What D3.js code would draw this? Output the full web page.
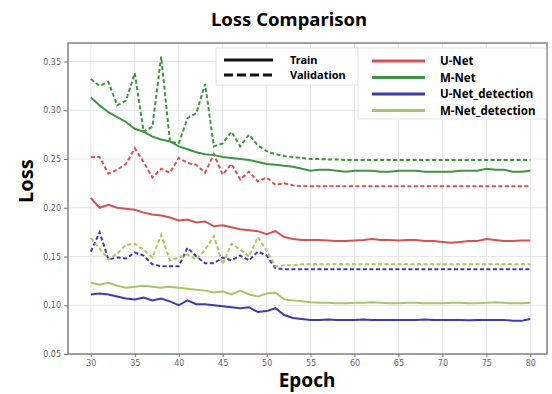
<!DOCTYPE html>
<html>
<head>
<meta charset="utf-8">
<script src="https://cdn.jsdelivr.net/npm/d3@7"></script>
<style>
  body { margin: 0; background: #fff; }
  svg { display: block; font-family: "Noto Sans", "Open Sans", sans-serif; }
</style>
</head>
<body>
<div id="chart"></div>
<script>
// epochs 30..80
const epochs = d3.range(30, 81);

const unetTrain = [0.210, 0.200, 0.203, 0.200, 0.199, 0.198, 0.195, 0.193, 0.192, 0.190,
  0.187, 0.188, 0.185, 0.186, 0.181, 0.182, 0.180, 0.178, 0.177, 0.176,
  0.173, 0.176, 0.170, 0.168, 0.167, 0.167, 0.167, 0.1665, 0.166, 0.166,
  0.1665, 0.167, 0.168, 0.167, 0.167, 0.1665, 0.167, 0.167, 0.166, 0.166,
  0.165, 0.164, 0.165, 0.166, 0.166, 0.168, 0.167, 0.166, 0.166, 0.1665, 0.1665];
const unetVal = [0.252, 0.252, 0.235, 0.239, 0.245, 0.261, 0.247, 0.231, 0.240, 0.236,
  0.251, 0.246, 0.244, 0.236, 0.255, 0.234, 0.245, 0.229, 0.237, 0.227,
  0.231, 0.2235, 0.225, 0.223, 0.222, 0.222, 0.222, 0.222, 0.222, 0.222,
  0.222, 0.222, 0.222, 0.222, 0.222, 0.222, 0.222, 0.222, 0.222, 0.222,
  0.222, 0.222, 0.222, 0.222, 0.222, 0.222, 0.222, 0.222, 0.222, 0.222, 0.222];

const mnetTrain = [0.313, 0.305, 0.298, 0.293, 0.288, 0.281, 0.278, 0.273, 0.270, 0.268,
  0.263, 0.260, 0.257, 0.255, 0.254, 0.252, 0.251, 0.250, 0.249, 0.247,
  0.245, 0.244, 0.243, 0.242, 0.240, 0.238, 0.239, 0.239, 0.238, 0.237,
  0.238, 0.238, 0.238, 0.237, 0.237, 0.238, 0.238, 0.238, 0.237, 0.237,
  0.237, 0.237, 0.238, 0.238, 0.238, 0.240, 0.239, 0.239, 0.237, 0.237, 0.238];
const mnetVal = [0.332, 0.325, 0.329, 0.305, 0.310, 0.338, 0.278, 0.283, 0.355, 0.268,
  0.266, 0.292, 0.297, 0.327, 0.263, 0.266, 0.278, 0.263, 0.275, 0.264,
  0.258, 0.255, 0.253, 0.252, 0.251, 0.250, 0.250, 0.2495, 0.2495, 0.249,
  0.249, 0.249, 0.249, 0.249, 0.249, 0.249, 0.249, 0.249, 0.249, 0.249,
  0.249, 0.249, 0.249, 0.249, 0.249, 0.249, 0.249, 0.249, 0.249, 0.249, 0.249];

const unetDetTrain = [0.111, 0.112, 0.111, 0.109, 0.107, 0.106, 0.108, 0.105, 0.107, 0.104,
  0.100, 0.105, 0.101, 0.101, 0.100, 0.099, 0.098, 0.097, 0.098, 0.093,
  0.094, 0.097, 0.090, 0.087, 0.086, 0.085, 0.085, 0.0855, 0.085, 0.085,
  0.085, 0.0855, 0.085, 0.085, 0.085, 0.085, 0.085, 0.085, 0.0855, 0.085,
  0.085, 0.085, 0.085, 0.0845, 0.085, 0.085, 0.085, 0.085, 0.084, 0.084, 0.086];
const unetDetVal = [0.155, 0.175, 0.147, 0.149, 0.148, 0.154, 0.151, 0.142, 0.140, 0.140,
  0.140, 0.159, 0.150, 0.143, 0.143, 0.149, 0.146, 0.151, 0.146, 0.155,
  0.151, 0.138, 0.137, 0.137, 0.137, 0.137, 0.137, 0.137, 0.137, 0.137,
  0.137, 0.137, 0.137, 0.137, 0.137, 0.137, 0.137, 0.137, 0.137, 0.137,
  0.137, 0.137, 0.137, 0.137, 0.137, 0.137, 0.137, 0.137, 0.137, 0.137, 0.137];

const mnetDetTrain = [0.123, 0.121, 0.123, 0.120, 0.118, 0.119, 0.120, 0.119, 0.118, 0.119,
  0.118, 0.117, 0.116, 0.115, 0.113, 0.114, 0.111, 0.115, 0.111, 0.109,
  0.112, 0.113, 0.106, 0.105, 0.104, 0.103, 0.1025, 0.1025, 0.102, 0.102,
  0.1025, 0.1025, 0.103, 0.1025, 0.102, 0.102, 0.1025, 0.1025, 0.102, 0.102,
  0.102, 0.1025, 0.1025, 0.102, 0.102, 0.1025, 0.103, 0.1025, 0.102, 0.102, 0.1025];
const mnetDetVal = [0.169, 0.158, 0.147, 0.153, 0.162, 0.163, 0.157, 0.149, 0.172, 0.146,
  0.149, 0.152, 0.147, 0.157, 0.171, 0.142, 0.163, 0.157, 0.150, 0.170,
  0.156, 0.140, 0.141, 0.141, 0.142, 0.142, 0.142, 0.142, 0.142, 0.142,
  0.142, 0.142, 0.142, 0.142, 0.142, 0.142, 0.142, 0.142, 0.142, 0.142,
  0.142, 0.142, 0.142, 0.142, 0.142, 0.142, 0.142, 0.142, 0.142, 0.142, 0.142];

const modelNames = ["U-Net", "M-Net", "U-Net_detection", "M-Net_detection"];
const modelColors = ["#d65252", "#3f943f", "#3c3cae", "#a9c763"];
const xTicks = [30, 35, 40, 45, 50, 55, 60, 65, 70, 75, 80];
const yTicks = [0.05, 0.10, 0.15, 0.20, 0.25, 0.30, 0.35];

const series = [
  {train: unetTrain, val: unetVal},
  {train: mnetTrain, val: mnetVal},
  {train: unetDetTrain, val: unetDetVal},
  {train: mnetDetTrain, val: mnetDetVal}
];

const W = 552, H = 394;
const plot = {left: 68, right: 547, top: 43, bottom: 354};

const svg = d3.select("#chart").append("svg")
  .attr("width", W)
  .attr("height", H);

const x = d3.scaleLinear().domain([27.4, 81.9]).range([plot.left, plot.right]);
const y = d3.scaleLinear().domain([0.05, 0.369]).range([plot.bottom, plot.top]);

// grid
svg.append("g")
  .selectAll("line.vgrid")
  .data(xTicks)
  .enter().append("line")
  .attr("x1", d => x(d)).attr("x2", d => x(d))
  .attr("y1", plot.top).attr("y2", plot.bottom)
  .attr("stroke", "#e6e6e6").attr("stroke-width", 1);
svg.append("g")
  .selectAll("line.hgrid")
  .data(yTicks)
  .enter().append("line")
  .attr("x1", plot.left).attr("x2", plot.right)
  .attr("y1", d => y(d)).attr("y2", d => y(d))
  .attr("stroke", "#e6e6e6").attr("stroke-width", 1);

// lines
const line = d3.line()
  .x((d, i) => x(epochs[i]))
  .y(d => y(d));

series.forEach((s, k) => {
  svg.append("path")
    .datum(s.val)
    .attr("d", line)
    .attr("fill", "none")
    .attr("stroke", modelColors[k])
    .attr("stroke-width", 2)
    .attr("stroke-dasharray", "4,2.5");
  svg.append("path")
    .datum(s.train)
    .attr("d", line)
    .attr("fill", "none")
    .attr("stroke", modelColors[k])
    .attr("stroke-width", 2);
});

// frame
svg.append("rect")
  .attr("x", plot.left).attr("y", plot.top)
  .attr("width", plot.right - plot.left)
  .attr("height", plot.bottom - plot.top)
  .attr("fill", "none")
  .attr("stroke", "#8a8a8a")
  .attr("stroke-width", 1.6);

// axes
const xAxis = svg.append("g")
  .attr("transform", "translate(0," + plot.bottom + ")")
  .call(d3.axisBottom(x).tickValues(xTicks).tickSize(3).tickPadding(3));
const yAxis = svg.append("g")
  .attr("transform", "translate(" + plot.left + ",0)")
  .call(d3.axisLeft(y).tickValues(yTicks).tickFormat(d3.format(".2f")).tickSize(4).tickPadding(3));
[xAxis, yAxis].forEach(a => {
  a.select(".domain").remove();
  a.selectAll(".tick line").attr("stroke", "#777");
  a.selectAll(".tick text")
    .attr("fill", "#666")
    .style("font-size", "8px")
    .style("font-family", "'DejaVu Sans', sans-serif");
});

// titles
svg.append("text")
  .attr("x", 289).attr("y", 26)
  .attr("text-anchor", "middle")
  .style("font-size", "18.5px").style("font-weight", "bold")
  .text("Loss Comparison");
svg.append("text")
  .attr("x", 307).attr("y", 387)
  .attr("text-anchor", "middle")
  .style("font-size", "19px").style("font-weight", "bold")
  .text("Epoch");
svg.append("text")
  .attr("transform", "translate(33,181) rotate(-90)")
  .attr("text-anchor", "middle")
  .style("font-size", "20px").style("font-weight", "bold")
  .text("Loss");

// legend: line style
const styleNames = ["Train", "Validation"];
const leg1 = svg.append("g");
leg1.append("rect")
  .attr("x", 216).attr("y", 48).attr("width", 142).attr("height", 37)
  .attr("fill", "#fff").attr("stroke", "#e4e4e4");
styleNames.forEach((n, i) => {
  leg1.append("line")
    .attr("x1", 224).attr("x2", 273)
    .attr("y1", 60 + i * 15).attr("y2", 60 + i * 15)
    .attr("stroke", "#111").attr("stroke-width", 3)
    .attr("stroke-dasharray", i === 1 ? "9,4" : null);
  leg1.append("text")
    .attr("x", 290).attr("y", 64 + i * 15)
    .style("font-size", "11px").style("font-weight", "bold")
    .text(n);
});

// legend: models
const leg2 = svg.append("g");
leg2.append("rect")
  .attr("x", 358).attr("y", 48).attr("width", 188).attr("height", 71)
  .attr("fill", "#fff").attr("stroke", "#e4e4e4");
modelNames.forEach((n, i) => {
  leg2.append("line")
    .attr("x1", 372).attr("x2", 425)
    .attr("y1", 61 + i * 16.5).attr("y2", 61 + i * 16.5)
    .attr("stroke", modelColors[i]).attr("stroke-width", 3);
  leg2.append("text")
    .attr("x", 440).attr("y", 65 + i * 16.5)
    .style("font-size", "11.5px").style("font-weight", "bold")
    .text(n);
});
</script>
</body>
</html>
